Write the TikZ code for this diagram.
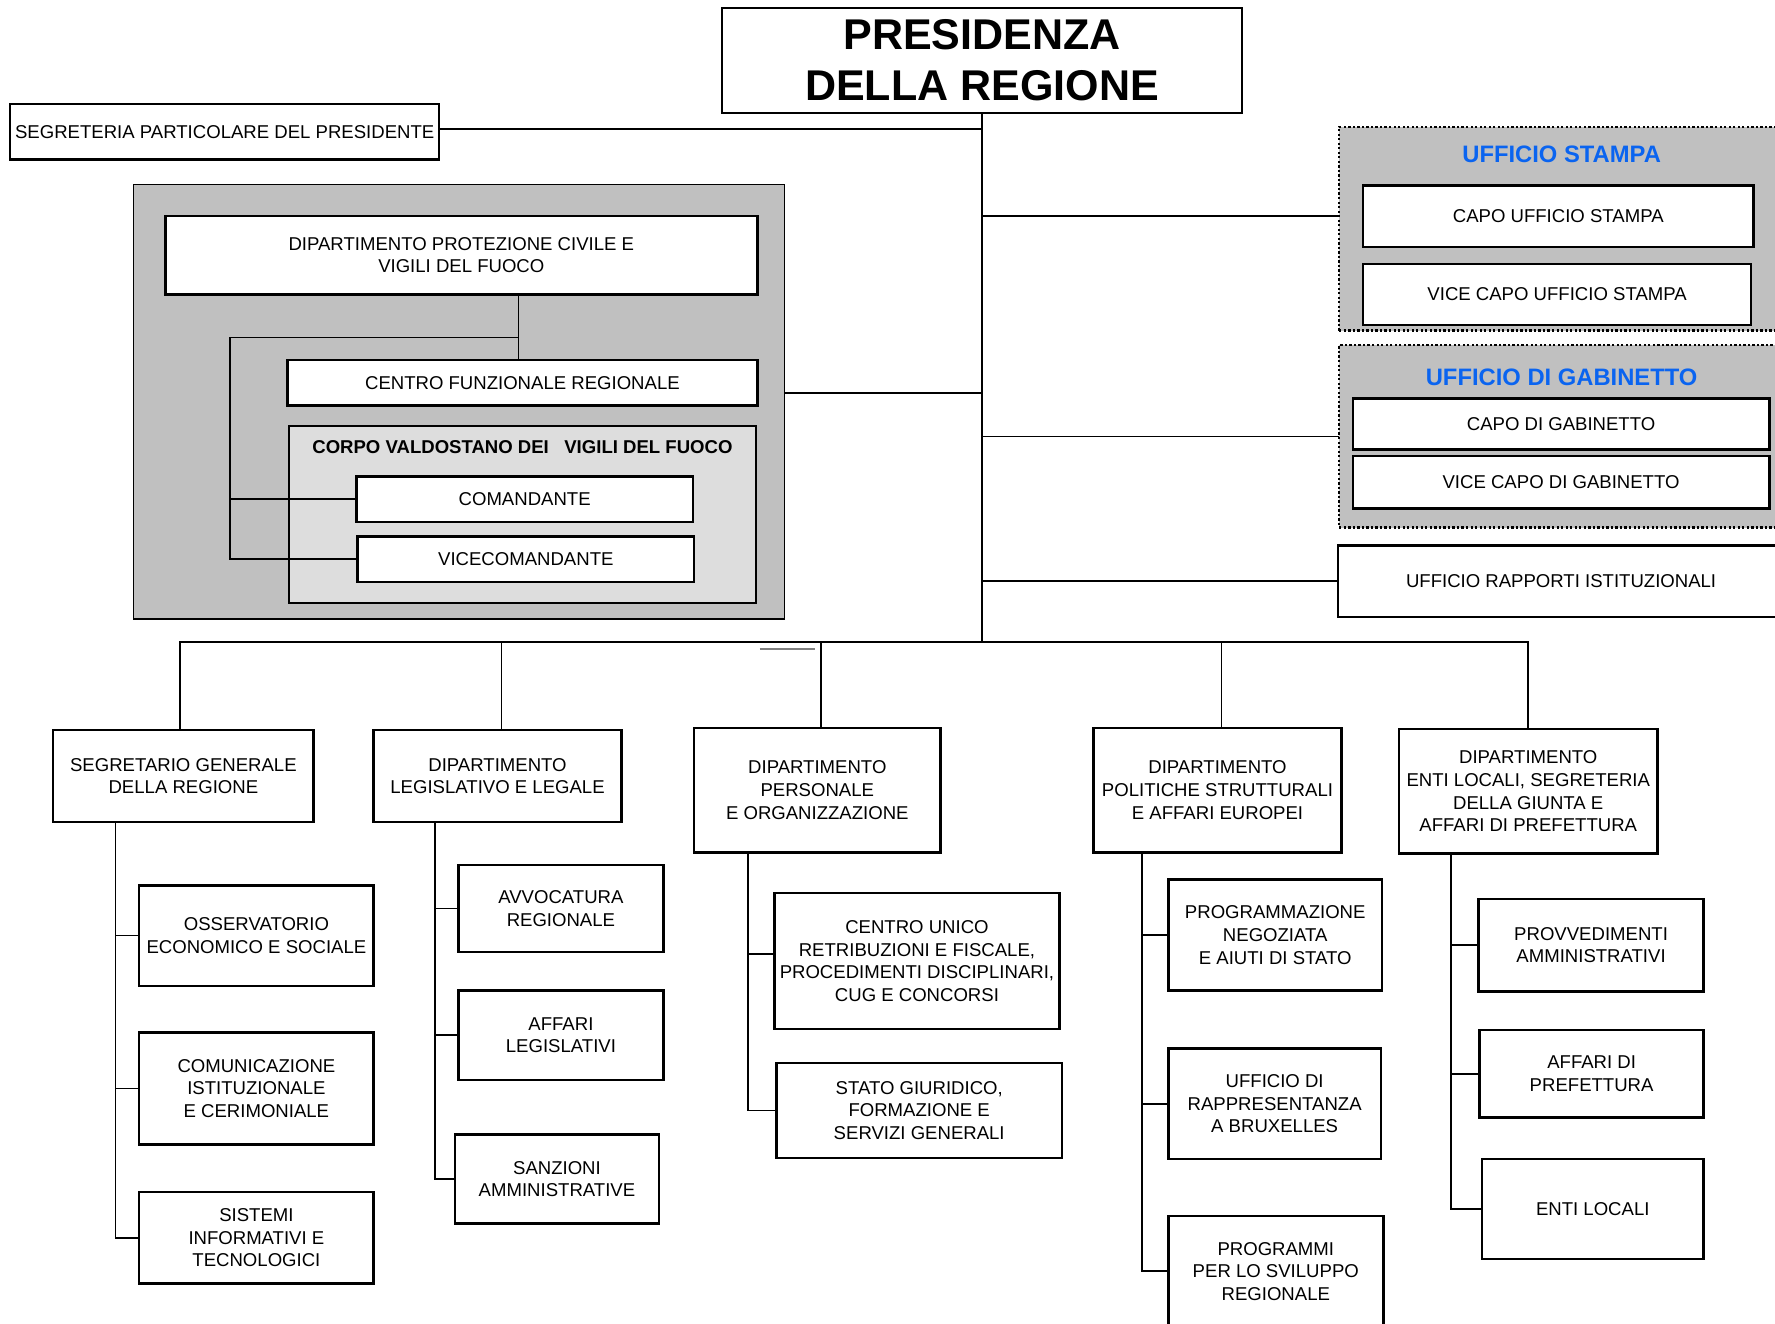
\documentclass[tikz,border=0pt]{standalone}
\usepackage{fontspec}
\setmainfont{Liberation Sans}
\usepackage{tikz}
\usetikzlibrary{positioning}
\definecolor{grigio}{RGB}{192,192,192}
\definecolor{grigiochiaro}{RGB}{221,221,221}
\definecolor{blu}{RGB}{10,100,240}
\tikzstyle{ufficio}=[draw, fill=white, line width=1.1pt, inner sep=0pt, outer sep=0pt, align=center, font=\fontsize{8.2}{10}\selectfont]
\tikzstyle{gruppo}=[draw, fill=grigio, line width=0.8pt, inner sep=0pt, outer sep=0pt]
\tikzstyle{staff}=[gruppo, line width=1pt, dash pattern=on 1pt off 1pt]
\tikzstyle{titolo}=[font=\fontsize{10.5}{12}\selectfont\bfseries, text=blu]
\tikzstyle{legame}=[line width=0.75pt]

\begin{document}
\begin{tikzpicture}[x=0.5pt, y=-0.5pt]
\useasboundingbox (0,0) rectangle (1568,1169);

% presidenza
\node[ufficio, minimum width=229.5pt, minimum height=46.5pt, font=\fontsize{19}{22.5}\selectfont\bfseries] (pres) at (867.5,53.5) {PRESIDENZA\\DELLA REGIONE};
\node[ufficio, minimum width=189.5pt, minimum height=24.5pt] (segr) at (198.5,116.5) {SEGRETERIA PARTICOLARE DEL PRESIDENTE};

% protezione civile
\node[gruppo, minimum width=287.5pt, minimum height=192pt] (protez) at (405.5,355) {};
\node[ufficio, minimum width=261.5pt, minimum height=34.5pt] (dpc) at (407.5,225.5) {DIPARTIMENTO PROTEZIONE CIVILE E\\VIGILI DEL FUOCO};
\node[ufficio, minimum width=207.5pt, minimum height=20pt] (cfr) at (461.5,338) {CENTRO FUNZIONALE REGIONALE};
\node[gruppo, fill=grigiochiaro, minimum width=206.5pt, minimum height=78.5pt] (corpo) at (461.5,454.5) {};
\node[font=\fontsize{8.2}{10}\selectfont\bfseries] (corpot) at ([yshift=-9.5pt]corpo.north) {CORPO VALDOSTANO DEI \ \ VIGILI DEL FUOCO};
\node[ufficio, minimum width=148.5pt, minimum height=20pt] (coman) at (463.5,441) {COMANDANTE};
\node[ufficio, minimum width=148.5pt, minimum height=20pt] (vice) at (464.5,494) {VICECOMANDANTE};

% staff
\node[staff, minimum width=196.5pt, minimum height=90pt] (stampa) at (1379.5,202) {};
\node[titolo] (stampat) at ([yshift=-12pt]stampa.north) {UFFICIO STAMPA};
\node[ufficio, minimum width=172.5pt, minimum height=27pt] (capost) at (1376.5,191) {CAPO UFFICIO STAMPA};
\node[ufficio, minimum width=171.5pt, minimum height=27pt] (vicest) at (1375.5,260) {VICE CAPO UFFICIO STAMPA};
\node[staff, minimum width=196.5pt, minimum height=80.5pt] (gabin) at (1379.5,385.5) {};
\node[titolo] (gabint) at ([yshift=-14pt]gabin.north) {UFFICIO DI GABINETTO};
\node[ufficio, minimum width=184pt, minimum height=22.5pt] (capog) at (1379,374.5) {CAPO DI GABINETTO};
\node[ufficio, minimum width=184pt, minimum height=23pt] (viceg) at (1379,426) {VICE CAPO DI GABINETTO};
\node[ufficio, minimum width=197pt, minimum height=31.5pt] (rapporti) at (1379,513.5) {UFFICIO RAPPORTI ISTITUZIONALI};

% dipartimenti
\node[ufficio, minimum width=115pt, minimum height=40.5pt] (sg) at (162,685.5) {SEGRETARIO GENERALE\\DELLA REGIONE};
\node[ufficio, minimum width=109.5pt, minimum height=40.5pt] (dll) at (439.5,685.5) {DIPARTIMENTO\\LEGISLATIVO E LEGALE};
\node[ufficio, minimum width=109pt, minimum height=55pt] (dpo) at (722,698) {DIPARTIMENTO\\PERSONALE\\E ORGANIZZAZIONE};
\node[ufficio, minimum width=109.5pt, minimum height=55pt] (dps) at (1075.5,698) {DIPARTIMENTO\\POLITICHE STRUTTURALI\\E AFFARI EUROPEI};
\node[ufficio, minimum width=114pt, minimum height=55pt] (del) at (1350,699) {DIPARTIMENTO\\ENTI LOCALI, SEGRETERIA\\DELLA GIUNTA E\\AFFARI DI PREFETTURA};

% strutture
\node[ufficio, minimum width=103.5pt, minimum height=44.5pt] (oss) at (226.5,826.5) {OSSERVATORIO\\ECONOMICO E SOCIALE};
\node[ufficio, minimum width=103.5pt, minimum height=49.5pt] (com) at (226.5,961.5) {COMUNICAZIONE\\ISTITUZIONALE\\E CERIMONIALE};
\node[ufficio, minimum width=103.5pt, minimum height=40.5pt] (sis) at (226.5,1093.5) {SISTEMI\\INFORMATIVI E\\TECNOLOGICI};
\node[ufficio, minimum width=90.5pt, minimum height=38.5pt] (avv) at (495.5,802.5) {AVVOCATURA\\REGIONALE};
\node[ufficio, minimum width=90.5pt, minimum height=39.5pt] (aff) at (495.5,914.5) {AFFARI\\LEGISLATIVI};
\node[ufficio, minimum width=90pt, minimum height=39.5pt] (san) at (492,1041.5) {SANZIONI\\AMMINISTRATIVE};
\node[ufficio, minimum width=126pt, minimum height=60pt] (cu) at (810,849) {CENTRO UNICO\\RETRIBUZIONI E FISCALE,\\PROCEDIMENTI DISCIPLINARI,\\CUG E CONCORSI};
\node[ufficio, minimum width=126pt, minimum height=42pt] (sgf) at (812,981) {STATO GIURIDICO,\\FORMAZIONE E\\SERVIZI GENERALI};
\node[ufficio, minimum width=94.5pt, minimum height=49pt] (pn) at (1126.5,826) {PROGRAMMAZIONE\\NEGOZIATA\\E AIUTI DI STATO};
\node[ufficio, minimum width=94pt, minimum height=49pt] (ur) at (1126,975) {UFFICIO DI\\RAPPRESENTANZA\\A BRUXELLES};
\node[ufficio, minimum width=95pt, minimum height=49pt] (psr) at (1127,1123) {PROGRAMMI\\PER LO SVILUPPO\\REGIONALE};
\node[ufficio, minimum width=99.5pt, minimum height=41pt] (prov) at (1405.5,835) {PROVVEDIMENTI\\AMMINISTRATIVI};
\node[ufficio, minimum width=99pt, minimum height=38.5pt] (pref) at (1406,948.5) {AFFARI DI\\PREFETTURA};
\node[ufficio, minimum width=98pt, minimum height=44pt] (enti) at (1407,1068) {ENTI LOCALI};

% collegamenti presidenza
\coordinate (bus) at (867.5,567);
\draw[legame] (pres.south) -- (bus);
\draw[legame] ([yshift=1.25pt]segr.east) -- ([yshift=1.25pt]segr.east -| pres.south);
\draw[legame] ([yshift=4pt]protez.east) -- ([yshift=4pt]protez.east -| pres.south);
\draw[legame] (capost.west -| pres.south) -- (capost.west -| stampa.west);
\draw[legame] (gabin.west -| pres.south) -- (gabin.west);
\draw[legame] (rapporti.west -| pres.south) -- (rapporti.west);
\draw[legame] ([xshift=-1.5pt]sg.north) |- (bus) -| (del.north);
\foreach \d in {dll,dpo,dps}
    \draw[legame] ([xshift=1.75pt]\d.north) -- ([xshift=1.75pt]\d.north |- bus);
\draw[legame, gray] (671,573) -- (720,573);

% collegamenti protezione civile
\coordinate (pc) at (203,298);
\draw[legame] ([xshift=-1.75pt]dpc.south -| cfr.north) -- ([xshift=-1.75pt]cfr.north);
\draw[legame] ([xshift=-1.75pt]pc -| cfr.north) -- (pc) |- (vice.west);
\draw[legame] (pc |- coman.west) -- (coman.west);

% collegamenti strutture
\coordinate (sgt) at (102,726);
\coordinate (dllt) at (384,726);
\coordinate (dpot) at (661,753);
\coordinate (dpst) at (1009,753);
\coordinate (delt) at (1282,754);
\draw[legame] (sgt) |- (sis.west);
\foreach \n in {oss,com}
    \draw[legame] (sgt |- \n.west) -- (\n.west);
\draw[legame] (dllt) |- (san.west);
\foreach \n in {avv,aff}
    \draw[legame] (dllt |- \n.west) -- (\n.west);
\draw[legame] (dpot) |- (sgf.west);
\draw[legame] ([yshift=3pt]dpot |- cu.west) -- ([yshift=3pt]cu.west);
\draw[legame] (dpst) |- (psr.west);
\foreach \n in {pn,ur}
    \draw[legame] (dpst |- \n.west) -- (\n.west);
\draw[legame] (delt) |- (enti.west);
\foreach \n in {prov,pref}
    \draw[legame] (delt |- \n.west) -- (\n.west);

\end{tikzpicture}
\end{document}
